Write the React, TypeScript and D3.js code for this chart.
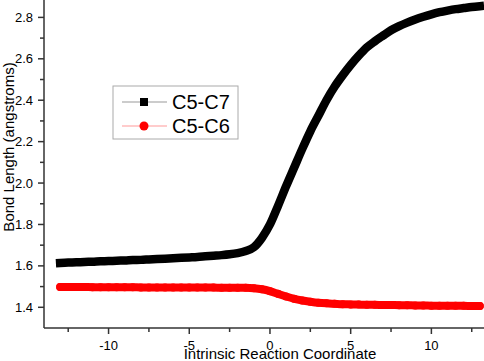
import { useEffect, useRef } from 'react';
import * as d3 from 'd3';

const ircCoord = [
  -13, -12.5, -12, -11.5, -11, -10.5, -10, -9.5, -9, -8.5, -8, -7.5, -7, -6.5, -6, -5.5, -5, -4.5,
  -4, -3.5, -3, -2.5, -2, -1.5, -1, -0.5, 0, 0.5, 1, 1.5, 2, 2.5, 3, 3.5, 4, 4.5, 5, 5.5, 6, 6.5,
  7, 7.5, 8, 8.5, 9, 9.5, 10, 10.5, 11, 11.5, 12, 12.5, 13,
];

const c5c7 = [
  1.614, 1.616, 1.617, 1.619, 1.62, 1.622, 1.623, 1.625, 1.626, 1.628, 1.629, 1.631, 1.633, 1.635,
  1.637, 1.639, 1.641, 1.643, 1.646, 1.649, 1.652, 1.656, 1.662, 1.672, 1.69, 1.735, 1.8, 1.89,
  1.985, 2.075, 2.165, 2.25, 2.325, 2.4, 2.465, 2.52, 2.57, 2.615, 2.655, 2.685, 2.712, 2.738,
  2.758, 2.775, 2.79, 2.803, 2.815, 2.825, 2.833, 2.84, 2.845, 2.85, 2.854,
];

const c5c6 = [
  1.498, 1.498, 1.498, 1.498, 1.497, 1.497, 1.497, 1.497, 1.497, 1.497, 1.496, 1.496, 1.496, 1.496,
  1.496, 1.495, 1.495, 1.495, 1.495, 1.495, 1.494, 1.494, 1.494, 1.494, 1.492, 1.487, 1.478, 1.465,
  1.452, 1.441, 1.433, 1.427, 1.422, 1.419, 1.417, 1.415, 1.414, 1.413, 1.412, 1.412, 1.411, 1.411,
  1.41, 1.41, 1.409, 1.409, 1.408, 1.408, 1.407, 1.407, 1.407, 1.406, 1.406,
];

const xMajor = [-10, -5, 0, 5, 10];
const xMinor = [-12.5, -7.5, -2.5, 2.5, 7.5, 12.5];
const yMajor = [1.4, 1.6, 1.8, 2.0, 2.2, 2.4, 2.6, 2.8];
const yMinor = [1.5, 1.7, 1.9, 2.1, 2.3, 2.5, 2.7];

const seriesNames = ['C5-C7', 'C5-C6'];

export default function App() {
  const ref = useRef<SVGSVGElement | null>(null);

  useEffect(() => {
    if (!ref.current) return;
    const svg = d3.select(ref.current);
    svg.selectAll('*').remove();

    const width = 484;
    const height = 361;
    const font = 'Arial, "Liberation Sans", sans-serif';

    const x = d3.scaleLinear().domain([-14, 13.26]).range([44, 484]);
    const y = d3.scaleLinear().domain([1.3, 2.884]).range([328, 0]);

    svg.attr('width', width).attr('height', height);
    svg.append('rect').attr('width', width).attr('height', height).attr('fill', '#fff');

    const line = d3
      .line<number>()
      .x((_, i) => x(ircCoord[i]))
      .y(d => y(d))
      .curve(d3.curveMonotoneX);

    // red series first, black on top
    svg.append('path')
      .attr('d', line(c5c6))
      .attr('fill', 'none')
      .attr('stroke', '#ff0000')
      .attr('stroke-width', 8)
      .attr('stroke-linecap', 'round');
    svg.selectAll('circle.c56')
      .data(c5c6)
      .enter()
      .append('circle')
      .attr('class', 'c56')
      .attr('cx', (_, i) => x(ircCoord[i]))
      .attr('cy', d => y(d))
      .attr('r', 4)
      .attr('fill', '#ff0000');

    svg.append('path')
      .attr('d', line(c5c7))
      .attr('fill', 'none')
      .attr('stroke', '#000')
      .attr('stroke-width', 8.5)
      .attr('stroke-linecap', 'square')
      .attr('stroke-linejoin', 'round');

    // axes
    const axisColor = '#333';
    svg.append('line').attr('x1', 44).attr('x2', 44).attr('y1', 0).attr('y2', 328)
      .attr('stroke', axisColor).attr('stroke-width', 1.5);
    svg.append('line').attr('x1', 44).attr('x2', 484).attr('y1', 328).attr('y2', 328)
      .attr('stroke', axisColor).attr('stroke-width', 1.5);

    svg.selectAll('line.xmaj').data(xMajor).enter().append('line')
      .attr('x1', d => x(d)).attr('x2', d => x(d)).attr('y1', 328).attr('y2', 334)
      .attr('stroke', axisColor).attr('stroke-width', 1.5);
    svg.selectAll('line.xmin').data(xMinor).enter().append('line')
      .attr('x1', d => x(d)).attr('x2', d => x(d)).attr('y1', 328).attr('y2', 332)
      .attr('stroke', axisColor).attr('stroke-width', 1.5);
    svg.selectAll('line.ymaj').data(yMajor).enter().append('line')
      .attr('x1', 38).attr('x2', 44).attr('y1', d => y(d)).attr('y2', d => y(d))
      .attr('stroke', axisColor).attr('stroke-width', 1.5);
    svg.selectAll('line.ymin').data(yMinor).enter().append('line')
      .attr('x1', 40).attr('x2', 44).attr('y1', d => y(d)).attr('y2', d => y(d))
      .attr('stroke', axisColor).attr('stroke-width', 1.5);

    svg.selectAll('text.xt').data(xMajor).enter().append('text')
      .attr('x', d => x(d)).attr('y', 350)
      .attr('text-anchor', 'middle')
      .attr('font-family', font).attr('font-size', 13).attr('fill', '#000')
      .text(d => `${d}`);
    svg.selectAll('text.yt').data(yMajor).enter().append('text')
      .attr('x', 33).attr('y', d => y(d) + 4.5)
      .attr('text-anchor', 'end')
      .attr('font-family', font).attr('font-size', 13).attr('fill', '#000')
      .text(d => d.toFixed(1));

    svg.append('text')
      .attr('x', 280).attr('y', 359)
      .attr('text-anchor', 'middle')
      .attr('font-family', font).attr('font-size', 15).attr('fill', '#000')
      .text('Intrinsic Reaction Coordinate');
    svg.append('text')
      .attr('transform', 'translate(14,147) rotate(-90)')
      .attr('text-anchor', 'middle')
      .attr('font-family', font).attr('font-size', 15).attr('fill', '#000')
      .text('Bond Length (angstroms)');

    // legend
    const lg = svg.append('g');
    lg.append('rect').attr('x', 113).attr('y', 86).attr('width', 125).attr('height', 53)
      .attr('fill', '#fff').attr('stroke', '#aaa').attr('stroke-width', 1);
    const rows = [
      { name: seriesNames[0], color: '#000', lineColor: '#999', shape: 'square', yy: 102 },
      { name: seriesNames[1], color: '#ff0000', lineColor: '#ff9999', shape: 'circle', yy: 126 },
    ];
    rows.forEach(r => {
      lg.append('line').attr('x1', 122).attr('x2', 167).attr('y1', r.yy).attr('y2', r.yy)
        .attr('stroke', r.lineColor).attr('stroke-width', 1);
      if (r.shape === 'square') {
        lg.append('rect').attr('x', 140).attr('y', r.yy - 4).attr('width', 8).attr('height', 8)
          .attr('fill', r.color);
      } else {
        lg.append('circle').attr('cx', 144).attr('cy', r.yy).attr('r', 4.5).attr('fill', r.color);
      }
      lg.append('text').attr('x', 172).attr('y', r.yy + 7)
        .attr('font-family', font).attr('font-size', 20).attr('fill', '#000')
        .text(r.name);
    });
  }, []);

  return (
    <div style={{ position: 'absolute', left: 0, top: 0 }}>
      <svg ref={ref} style={{ display: 'block' }}></svg>
    </div>
  );
}
